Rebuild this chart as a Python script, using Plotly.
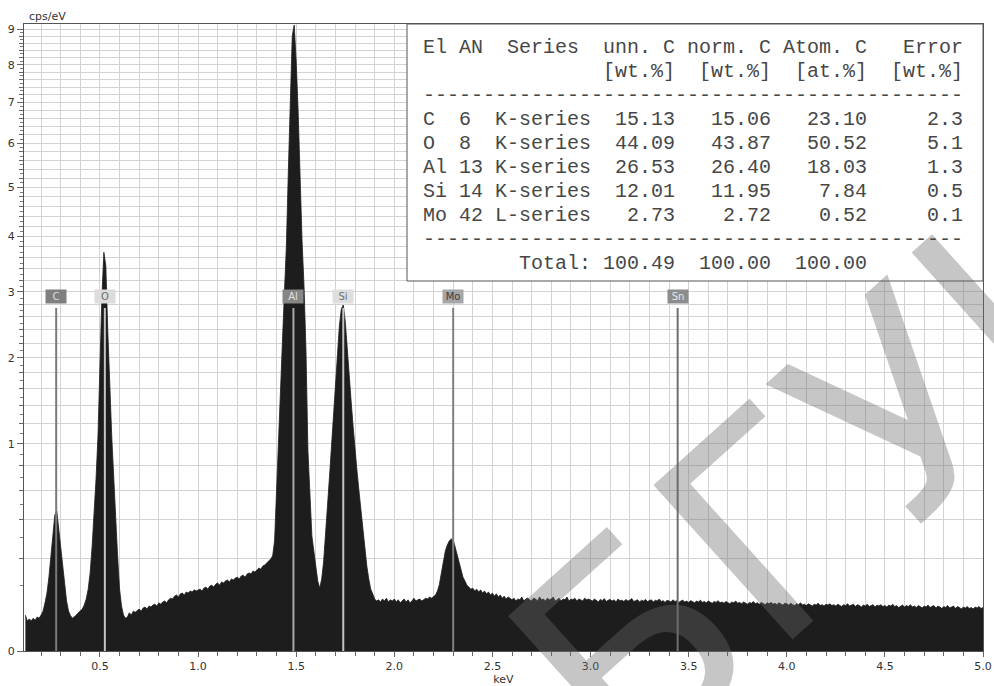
import numpy as np
import plotly.graph_objects as go

# ---------------- data (cps/eV per 0.01 keV channel) ----------------
E_START = 0.12
E_STEP = 0.01

counts_a = [  # 0.12 - 0.99 keV
    0.030, 0.021, 0.024, 0.021, 0.025, 0.022, 0.027, 0.025, 0.030, 0.037,
    0.054, 0.078, 0.127, 0.201, 0.324, 0.430, 0.456, 0.346, 0.237, 0.157,
    0.095, 0.058, 0.037, 0.029, 0.025, 0.027, 0.030, 0.034, 0.037, 0.041,
    0.049, 0.063, 0.089, 0.142, 0.252, 0.424, 0.688, 1.076, 1.957, 2.933,
    3.700, 3.449, 2.383, 1.573, 1.076, 0.713, 0.393, 0.210, 0.089, 0.047,
    0.030, 0.025, 0.027, 0.034, 0.030, 0.037, 0.035, 0.039, 0.041, 0.037,
    0.043, 0.045, 0.041, 0.047, 0.045, 0.049, 0.051, 0.047, 0.054, 0.051,
    0.056, 0.058, 0.054, 0.061, 0.065, 0.063, 0.070, 0.073, 0.068, 0.076,
    0.078, 0.073, 0.081, 0.078, 0.084, 0.081, 0.087, 0.084,
]
counts_b = [  # 1.00 - 1.99 keV
    0.087, 0.089, 0.084, 0.092, 0.095, 0.089, 0.098, 0.101, 0.095, 0.104,
    0.108, 0.101, 0.111, 0.108, 0.114, 0.117, 0.111, 0.121, 0.117, 0.124,
    0.127, 0.121, 0.131, 0.134, 0.127, 0.138, 0.142, 0.138, 0.149, 0.145,
    0.153, 0.160, 0.156, 0.168, 0.172, 0.180, 0.188, 0.197, 0.210, 0.282,
    0.596, 1.076, 1.597, 2.236, 2.982, 3.817, 5.362, 7.298, 8.802, 9.119,
    8.100, 6.786, 5.140, 3.912, 3.100, 2.094, 0.931, 0.524, 0.308, 0.233,
    0.168, 0.114, 0.092, 0.121, 0.188, 0.308, 0.489, 0.713, 0.978, 1.285,
    1.597, 2.025, 2.458, 2.722, 2.786, 2.534, 2.094, 1.696, 1.454, 1.178,
    0.931, 0.754, 0.596, 0.456, 0.324, 0.233, 0.168, 0.121, 0.089, 0.076,
    0.063, 0.058, 0.061, 0.056, 0.063, 0.058, 0.065, 0.056, 0.061, 0.058,
]
counts_c = [  # 2.00 - 2.99 keV
    0.063, 0.056, 0.061, 0.054, 0.058, 0.063, 0.056, 0.061, 0.054, 0.058,
    0.065, 0.058, 0.061, 0.063, 0.058, 0.061, 0.065, 0.063, 0.068, 0.065,
    0.070, 0.073, 0.084, 0.104, 0.142, 0.188, 0.233, 0.261, 0.282, 0.292,
    0.287, 0.252, 0.214, 0.180, 0.149, 0.127, 0.114, 0.101, 0.095, 0.089,
    0.092, 0.084, 0.089, 0.081, 0.087, 0.078, 0.084, 0.076, 0.081, 0.073,
    0.078, 0.070, 0.076, 0.068, 0.073, 0.065, 0.070, 0.063, 0.068, 0.065,
    0.061, 0.065, 0.058, 0.063, 0.061, 0.068, 0.058, 0.063, 0.065, 0.061,
    0.058, 0.065, 0.063, 0.058, 0.068, 0.061, 0.063, 0.058, 0.065, 0.061,
    0.063, 0.068, 0.058, 0.061, 0.065, 0.058, 0.063, 0.061, 0.068, 0.058,
    0.063, 0.061, 0.065, 0.058, 0.063, 0.061, 0.058, 0.065, 0.061, 0.063,
]
counts_d = [  # 3.00 - 3.99 keV
    0.061, 0.058, 0.063, 0.060, 0.056, 0.062, 0.059, 0.064, 0.057, 0.060,
    0.062, 0.058, 0.061, 0.056, 0.063, 0.059, 0.060, 0.057, 0.062, 0.058,
    0.060, 0.064, 0.057, 0.059, 0.061, 0.056, 0.060, 0.058, 0.062, 0.057,
    0.059, 0.061, 0.056, 0.060, 0.058, 0.063, 0.057, 0.059, 0.055, 0.060,
    0.058, 0.056, 0.061, 0.057, 0.059, 0.055, 0.058, 0.060, 0.056, 0.058,
    0.055, 0.059, 0.057, 0.054, 0.058, 0.056, 0.060, 0.055, 0.057, 0.054,
    0.058, 0.056, 0.053, 0.057, 0.055, 0.059, 0.054, 0.056, 0.053, 0.057,
    0.055, 0.052, 0.056, 0.054, 0.058, 0.053, 0.055, 0.052, 0.056, 0.054,
    0.051, 0.055, 0.053, 0.057, 0.052, 0.054, 0.051, 0.055, 0.053, 0.050,
    0.054, 0.052, 0.055, 0.051, 0.053, 0.050, 0.054, 0.052, 0.049, 0.053,
]
counts_e = [  # 4.00 - 5.00 keV
    0.052, 0.049, 0.053, 0.050, 0.048, 0.052, 0.050, 0.054, 0.049, 0.051,
    0.048, 0.052, 0.050, 0.047, 0.051, 0.049, 0.053, 0.048, 0.050, 0.047,
    0.051, 0.049, 0.052, 0.048, 0.050, 0.047, 0.051, 0.049, 0.046, 0.050,
    0.048, 0.052, 0.047, 0.049, 0.051, 0.046, 0.050, 0.048, 0.045, 0.049,
    0.047, 0.051, 0.046, 0.048, 0.050, 0.045, 0.049, 0.047, 0.050, 0.046,
    0.048, 0.045, 0.049, 0.047, 0.051, 0.046, 0.048, 0.044, 0.047, 0.049,
    0.045, 0.048, 0.046, 0.050, 0.045, 0.047, 0.044, 0.048, 0.046, 0.043,
    0.047, 0.045, 0.049, 0.044, 0.046, 0.048, 0.043, 0.047, 0.045, 0.042,
    0.046, 0.044, 0.048, 0.043, 0.045, 0.047, 0.042, 0.046, 0.044, 0.041,
    0.045, 0.043, 0.046, 0.042, 0.044, 0.041, 0.045, 0.043, 0.046, 0.042,
    0.044,
]

# element markers
elements = ["C", "O", "Al", "Si", "Mo", "Sn"]
element_kev = [0.277, 0.525, 1.486, 1.740, 2.300, 3.444]

# quantification table
tbl_el = ["C", "O", "Al", "Si", "Mo"]
tbl_an = [6, 8, 13, 14, 42]
tbl_series = ["K-series", "K-series", "K-series", "K-series", "L-series"]
tbl_unn = [15.13, 44.09, 26.53, 12.01, 2.73]
tbl_norm = [15.06, 43.87, 26.40, 11.95, 2.72]
tbl_atom = [23.10, 50.52, 18.03, 7.84, 0.52]
tbl_err = [2.3, 5.1, 1.3, 0.5, 0.1]
tbl_total = [100.49, 100.00, 100.00]

y_tick_values = list(range(10))
x_tick_values = [0.5, 1.0, 1.5, 2.0, 2.5, 3.0, 3.5, 4.0, 4.5, 5.0]

# ---------------- styling ----------------
W, H = 994, 686
ML, MR, MT, MB = 24, 11, 24, 35
PW, PH = W - ML - MR, H - MT - MB
GRID = "#d3d3d3"
AXIS = "#555555"
YMAX = 3.025  # sqrt scale top

label_bg = ["#7f7f7f", "#dcdcdc", "#868686", "#dedede", "#a6a6a6", "#8c8c8c"]
label_fg = ["#dddddd", "#6e6e6e", "#e0e0e0", "#707070", "#3c3c3c", "#e8e8e8"]
line_col = ["#7a7a7a", "#c4c4c4", "#a8a8a8", "#c4c4c4", "#808080", "#6e6e6e"]

def px_x(p):
    return (p - ML) / PW

def px_y(p):
    return (H - MB - p) / PH

counts = np.array(counts_a + counts_b + counts_c + counts_d + counts_e)
energy = np.round(E_START + E_STEP * np.arange(len(counts)), 2)

fig = go.Figure()
fig.add_trace(go.Scatter(
    x=energy, y=np.sqrt(counts), mode="lines",
    line=dict(color="#1d1d1d", width=0.8, shape="linear"),
    fill="tozeroy", fillcolor="#1d1d1d",
    hoverinfo="skip", showlegend=False,
))

MARK_TOP = np.sqrt(2.74)
LABEL_Y = np.sqrt(2.93)
for el, e, lc in zip(elements, element_kev, line_col):
    fig.add_trace(go.Scatter(
        x=[e, e], y=[0, MARK_TOP], mode="lines", yaxis="y2",
        line=dict(color=lc, width=2), hoverinfo="skip", showlegend=False,
    ))

annotations = []
for el, e, bg, fg in zip(elements, element_kev, label_bg, label_fg):
    annotations.append(dict(
        x=e, y=LABEL_Y, xref="x", yref="y", text=el, showarrow=False,
        bgcolor=bg, font=dict(size=10, color=fg, family="DejaVu Sans"),
        borderpad=1, width=18, align="center",
    ))

# table text
lines = [
    "El AN  Series  unn. C norm. C Atom. C   Error",
    " " * 15 + "[wt.%]  [wt.%]  [at.%]  [wt.%]",
    "-" * 45,
]
for el, an, se, u, n, a, er in zip(tbl_el, tbl_an, tbl_series, tbl_unn, tbl_norm, tbl_atom, tbl_err):
    lines.append(f"{el:<2} {an:<2} {se}  {u:>5.2f}   {n:>5.2f}   {a:>5.2f}   {er:>5.1f}")
lines.append("-" * 45)
lines.append(" " * 8 + f"Total: {tbl_total[0]:>6.2f}  {tbl_total[1]:>6.2f}  {tbl_total[2]:>6.2f}")

# watermark (drawn first so the table box stays on top of it)
annotations.insert(0, dict(
    x=px_x(905), y=px_y(405), xref="paper", yref="paper",
    xanchor="center", yanchor="middle", showarrow=False, text="БГУИР",
    textangle=-42, font=dict(family="DejaVu Sans", size=285, color="rgba(105,105,105,0.38)"),
))

for i, ln in enumerate(lines):
    annotations.append(dict(
        x=px_x(421), y=px_y(47.7 + 23.96 * i), xref="paper", yref="paper",
        xanchor="left", yanchor="middle", showarrow=False,
        text=ln.replace(" ", "\u00a0"),
        font=dict(family="Liberation Mono", size=20, color="#474747"),
    ))

# y unit
annotations.append(dict(
    x=0, y=1, xref="paper", yref="paper", xanchor="left", yanchor="bottom",
    xshift=3, yshift=-1, showarrow=False, text="cps/eV",
    font=dict(family="DejaVu Sans", size=11, color="#333333"),
))

shapes = [dict(
    type="rect", xref="paper", yref="paper",
    x0=px_x(407), x1=1, y0=px_y(281), y1=1,
    fillcolor="white", line=dict(color="#555555", width=1), layer="above",
)]

fig.update_layout(
    width=W, height=H, autosize=False,
    margin=dict(l=ML, r=MR, t=MT, b=MB, pad=0, autoexpand=False),
    paper_bgcolor="white", plot_bgcolor="white",
    font=dict(family="DejaVu Sans", size=11, color="#333333"),
    showlegend=False,
    annotations=annotations, shapes=shapes,
    xaxis=dict(
        range=[0.113, 5.0], tickmode="array", tickvals=x_tick_values,
        ticktext=[f"{v:.1f}" for v in x_tick_values], automargin=False,
        ticks="outside", ticklen=5, tickcolor="#666666", tickwidth=1,
        showgrid=True, gridcolor=GRID, gridwidth=1,
        showline=True, linecolor=AXIS, linewidth=1, mirror=True, zeroline=False,
        minor=dict(tickmode="linear", tick0=0, dtick=0.1, ticks="outside", ticklen=4,
                   tickcolor="#666666", showgrid=True, gridcolor=GRID, gridwidth=1),
        tickfont=dict(size=11, color="#333333"),
        title=dict(text="keV", standoff=2, font=dict(size=11, color="#333333")),
    ),
    yaxis=dict(
        range=[0, YMAX], tickmode="array", automargin=False,
        tickvals=[float(np.sqrt(v)) for v in y_tick_values],
        ticktext=[str(v) for v in y_tick_values],
        ticks="outside", ticklen=6, tickcolor="#666666", tickwidth=1,
        showgrid=True, gridcolor=GRID, gridwidth=1,
        showline=True, linecolor=AXIS, linewidth=1, mirror=True, zeroline=False,
        minor=dict(tickmode="array",
                   tickvals=[float(np.sqrt(0.2 * k)) for k in range(1, 46) if k % 5 != 0],
                   ticks="outside", ticklen=4, tickcolor="#666666",
                   showgrid=True, gridcolor=GRID, gridwidth=1),
        tickfont=dict(size=11, color="#333333"),
    ),
    yaxis2=dict(
        overlaying="y", side="left", range=[0, YMAX], tickmode="array", automargin=False,
        tickvals=[float(np.sqrt(0.1 * k)) for k in range(1, 91) if k % 2 == 1],
        ticks="outside", ticklen=3, tickcolor="#777777",
        showticklabels=False, showgrid=False, zeroline=False, showline=False,
    ),
)

fig.write_html("out.html", config={"displayModeBar": False},
               post_script="document.body.style.margin='0';")
